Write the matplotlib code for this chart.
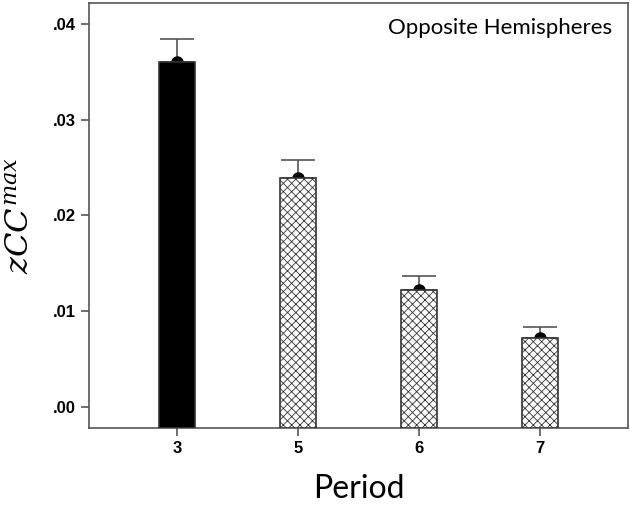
import matplotlib
matplotlib.use("Agg")
import matplotlib.pyplot as plt
import numpy as np

periods = ["3", "5", "6", "7"]
means = [0.0360, 0.0239, 0.0122, 0.0072]
err_up = [0.00245, 0.0019, 0.0015, 0.0011]
fills = ["black", "white", "white", "white"]
hatches = [None, "xxxx", "xxxx", "xxxx"]

plt.rcParams['hatch.linewidth'] = 0.6
plt.rcParams['mathtext.fontset'] = 'dejavuserif'

fig = plt.figure(figsize=(6.3, 5.07), dpi=100)
ax = fig.add_axes([0.1413, 0.156, 0.8555, 0.838])

ymin, ymax = -0.0022, 0.0422
x = np.arange(len(periods))

ax.errorbar(x, means, yerr=[np.zeros(len(means)), err_up], fmt="none",
            ecolor="#555555", elinewidth=1.2, capsize=12.5, capthick=1.2, zorder=1)
ax.plot(x, means, "o", color="black", markersize=8, zorder=2)
for i in range(len(periods)):
    ax.bar(x[i], means[i] - ymin, bottom=ymin, width=0.30, color=fills[i],
           edgecolor="#333333", hatch=hatches[i], linewidth=1.2, zorder=3)

ax.set_xlim(-0.727, 3.727)
ax.set_ylim(ymin, ymax)
ax.set_xticks(x)
ax.set_xticklabels(periods, fontfamily="Liberation Sans", fontweight="bold", fontsize=12)
ax.set_yticks([0.0, 0.01, 0.02, 0.03, 0.04])
ax.set_yticklabels([".00", ".01", ".02", ".03", ".04"],
                   fontfamily="Liberation Sans", fontweight="bold", fontsize=12)
ax.tick_params(direction="out", length=6, width=1.2, color="#555555")

for sp in ax.spines.values():
    sp.set_color("#555555")
    sp.set_linewidth(1.2)

ax.text(0.97, 0.965, "Opposite Hemispheres", transform=ax.transAxes,
        ha="right", va="top", fontsize=16, family="Lato")

ax.set_xlabel("Period", fontsize=23, family="Lato", labelpad=13)
ax.set_ylabel(r"$zCC^{max}$", fontsize=23, labelpad=12)

fig.savefig("out.png", dpi=100)
